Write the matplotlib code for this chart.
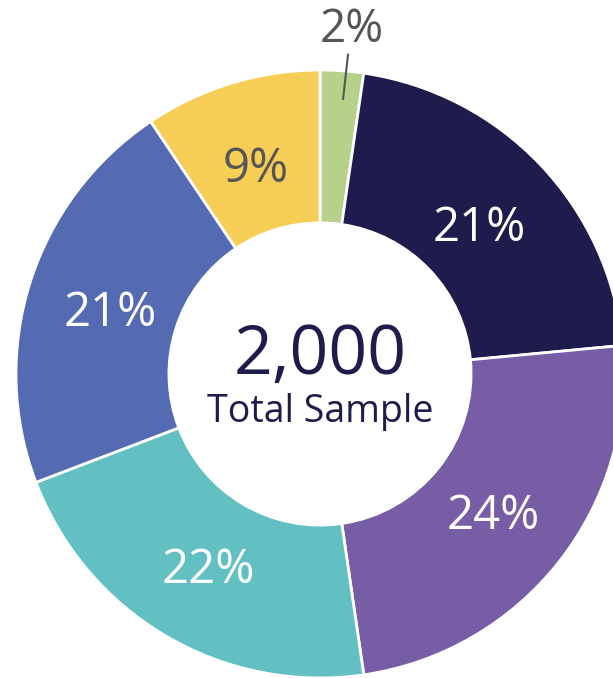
import numpy as np
import matplotlib.pyplot as plt

plt.rcParams['font.family'] = ['Open Sans', 'DejaVu Sans']

# slice sizes (clockwise from 12 o'clock)
shares = [2.3, 21.2, 24.2, 21.5, 21.4, 9.4]
labels = ["2%", "21%", "24%", "22%", "21%", "9%"]
colors = ["#B5D18A", "#1E1B4D", "#775DA6", "#62C0C3", "#546BB3", "#F6CD55"]
text_colors = ["#555555", "white", "white", "white", "white", "#555555"]
total = "2,000"

fig = plt.figure(figsize=(6.13, 6.78), dpi=100)
ax = fig.add_axes([0, 0, 1, 1])

wedges, _ = ax.pie(shares, colors=colors, startangle=90, counterclock=False,
                   radius=1.0, wedgeprops=dict(width=0.503, edgecolor='white', linewidth=2))

# labels in the middle of the ring, the small slice gets a leader line
for w, lab, tc in zip(wedges, labels, text_colors):
    if lab == "2%":
        ax.plot([0.076, 0.092], [0.905, 1.05], color='#555555', lw=1.5)
        ax.text(0.106, 1.13, lab, ha='center', va='center', fontsize=33, color=tc)
        continue
    ang = np.deg2rad((w.theta1 + w.theta2) / 2)
    r = 0.725
    ax.text(r * np.cos(ang), r * np.sin(ang) - 0.02, lab, ha='center', va='center',
            fontsize=34, color=tc)

ax.text(0, 0.06, total, ha='center', va='center', fontsize=49, color='#1E1B4D')
ax.text(0, -0.125, "Total Sample", ha='center', va='center', fontsize=27, color='#1E1B4D')

ax.set_xlim(-320 / 304, 293 / 304)
ax.set_ylim(-304 / 304, 374 / 304)
ax.set_aspect('auto')
ax.axis('off')

fig.savefig("out.png", dpi=100)
